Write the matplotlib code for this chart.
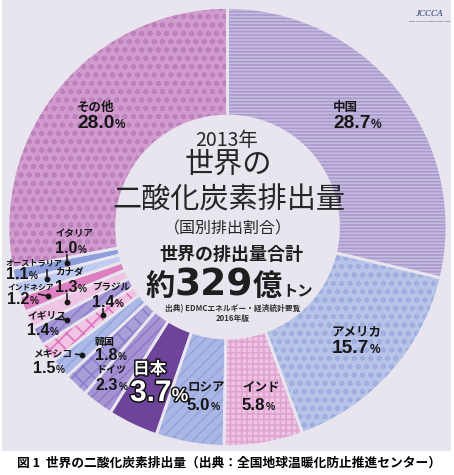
import matplotlib
matplotlib.use('Agg')
import matplotlib.pyplot as plt
import matplotlib.patheffects as pe
from matplotlib.patches import Rectangle

# ---------------- data ----------------
countries = ['中国', 'アメリカ', 'インド', 'ロシア', '日本', 'ドイツ', '韓国', 'メキシコ',
             'ブラジル', 'イギリス', 'カナダ', 'インドネシア', 'オーストラリア', 'イタリア', 'その他']
shares = [28.7, 15.7, 5.8, 5.0, 3.7, 2.3, 1.8, 1.5, 1.4, 1.4, 1.3, 1.2, 1.1, 1.0, 28.0]
share_labels = ['28.7', '15.7', '5.8', '5.0', '3.7', '2.3', '1.8', '1.5',
                '1.4', '1.4', '1.3', '1.2', '1.1', '1.0', '28.0']
title_year = '2013年'
title_l1 = '世界の'
title_l2 = '二酸化炭素排出量'
title_l3 = '（国別排出割合）'
total_label = '世界の排出量合計'
total_parts = ['約', '329', '億', 'トン']
source_l1 = '出典) EDMCエネルギー・経済統計要覧'
source_l2 = '2016年版'
caption = '図 1  世界の二酸化炭素排出量（出典：全国地球温暖化防止推進センター）'

# ---------------- style ----------------
BG = '#e9e5ef'
faces = ['#c8bde0', '#b7c4e8', '#efc3e3', '#aab6e4', '#6d4499', '#a693d4', '#a99ed8', '#acb9e7',
         '#f1c4e3', '#a799d8', '#eec3e3', '#de7fc1', '#bfcbf1', '#8d9edc', '#d19bce']
hatches = ['-----', 'oo', '+++', '///', '', '///', 'xx', '///',
           'xx', '///', '', '', '', '', 'oo']
hatch_cols = ['#a999cd', '#9dadde', '#dea3d0', '#95a4dd', '#6d4499', '#8f7bc7', '#8b7ecb', '#96a6df',
              '#dc76be', '#8d7ecc', '#eec3e3', '#de7fc1', '#bfcbf1', '#8d9edc', '#bb7fbc']

plt.rcParams['hatch.linewidth'] = 1.2
JP = ['Noto Sans CJK JP', 'DejaVu Sans']
NUM = ['Liberation Sans', 'DejaVu Sans']

W, H = 454, 475
fig = plt.figure(figsize=(W / 100, H / 100), dpi=100, facecolor='white')
ax = fig.add_axes([0, 0, 1, 1])


def Y(y):
    return H - y


ax.add_patch(Rectangle((2, Y(451)), 449, 451, facecolor=BG, edgecolor='none', zorder=0))

cx, cy, R, WID = 227.5, 227, 219.5, 108.5
wedges, _ = ax.pie(shares, colors=faces, hatch=hatches, startangle=90, counterclock=False,
                   radius=R, center=(cx, Y(cy)), wedgeprops=dict(width=WID, linewidth=0))
for w, hc in zip(wedges, hatch_cols):
    w.set_edgecolor(hc)
    w.set_linewidth(0)
    w.set_zorder(1)
gaps, _ = ax.pie(shares, startangle=90, counterclock=False, radius=R, center=(cx, Y(cy)),
                 wedgeprops=dict(width=WID, facecolor='none', edgecolor=BG, linewidth=2.0))
for g in gaps:
    g.set_zorder(2)

ax.set_xlim(0, W)
ax.set_ylim(0, H)
ax.set_aspect('auto')
ax.axis('off')

renderer = fig.canvas.get_renderer()


def seq(parts, x, y, align='left', zorder=5):
    objs, widths = [], []
    for s, kw in parts:
        t = ax.text(0, Y(y), s, va='baseline', ha='left', zorder=zorder, **kw)
        objs.append(t)
        widths.append(t.get_window_extent(renderer).width)
    total = sum(widths)
    x0 = x - total / 2 if align == 'center' else x
    for t, w in zip(objs, widths):
        t.set_x(x0)
        x0 += w


# label positions: x_left, label center y, number baseline y
pos = [(333, 107, 128), (332, 332, 353), (242, 388, 410), (187, 388, 410), (130, 369, 401),
       (96, 370, 390), (95, 342, 360), (33, 354, 373), (92, 286, 307), (27, 316, 335),
       (55, 272, 292), (7, 287, 304), (6, 263, 279), (55, 233, 253), (77, 107, 128)]
lab_size = [9, 9, 9, 9, 12, 7.2, 7.2, 7, 6.8, 7, 6.8, 5.6, 5.9, 6.8, 9]
num_size = [13.8, 13.8, 12.2, 12.2, 21.5, 11.6, 11.6, 11.6, 11.6, 11.6, 11.6, 11.6, 11.6, 11.6, 13.8]

for i, name in enumerate(countries):
    x, ly, ny = pos[i]
    if name == '日本':
        eff = [pe.withStroke(linewidth=2.2, foreground='#111111')]
        col = 'white'
    else:
        eff = None
        col = '#161616'
    ax.text(x + (3 if name == '日本' else 0), Y(ly), name, fontsize=lab_size[i], family=JP,
            weight='bold', color=col, va='center', ha='left', zorder=5, path_effects=eff)
    seq([(share_labels[i], dict(fontsize=num_size[i], family=NUM, weight='bold', color=col,
                                path_effects=eff)),
         ('%', dict(fontsize=num_size[i] * 0.62, family=NUM, weight='bold', color=col,
                    path_effects=eff))], x, ny)

# connectors (label -> wedge)
conn = [((67, 254), (67, 263)), ((47, 269), (47, 279)), ((67, 293), (67, 302)),
        ((38, 294), (48, 296)), ((103, 308), (103, 315)), ((55, 319), (67, 320)),
        ((75, 354), (82, 355))]
for (x0, y0), (x1, y1) in conn:
    ax.plot([x0, x1], [Y(y0), Y(y1)], color='#161616', lw=1.1, zorder=5, solid_capstyle='butt')
    ax.plot([x1], [Y(y1)], marker='o', ms=3.2, color='#161616', zorder=5)

# center text
ax.text(227, Y(140), title_year, fontsize=14, family=JP, color='#262626', ha='center', va='center')
ax.text(228, Y(165), title_l1, fontsize=21, family=JP, color='#262626', ha='center', va='center')
ax.text(229, Y(200), title_l2, fontsize=21, family=JP, color='#262626', ha='center', va='center')
ax.text(228, Y(229), title_l3, fontsize=11.5, family=JP, color='#262626', ha='center', va='center')
ax.text(231, Y(255), total_label, fontsize=13, family=JP, weight='bold', color='#1e1e1e',
        ha='center', va='center')
seq([(total_parts[0], dict(fontsize=21, family=JP, weight='bold', color='#1e1e1e')),
     (total_parts[1], dict(fontsize=27, family=['DejaVu Sans'], weight='bold', color='#1e1e1e')),
     (total_parts[2], dict(fontsize=21, family=JP, weight='bold', color='#1e1e1e')),
     (total_parts[3], dict(fontsize=11, family=JP, weight='bold', color='#1e1e1e'))],
    229, 295, align='center')
ax.text(233, Y(309), source_l1, fontsize=5.6, family=JP, weight='bold', color='#333333',
        ha='center', va='center')
ax.text(233, Y(318.5), source_l2, fontsize=5.6, family=JP, weight='bold', color='#333333',
        ha='center', va='center')

# logo
ax.text(430, Y(14), 'JCCCA', fontsize=6.5, family=['Liberation Serif'], style='italic',
        color='#1d2f6a', ha='center', va='center')
ax.text(430, Y(21), 'Japan Center for Climate Change Actions', fontsize=1.6, family=NUM,
        color='#1d2f6a', ha='center', va='center')

# caption
ax.text(229, Y(463), caption, fontsize=9.2, family=JP, weight='bold', color='#000000',
        ha='center', va='center')

fig.savefig('out.png', dpi=100, facecolor='white')
